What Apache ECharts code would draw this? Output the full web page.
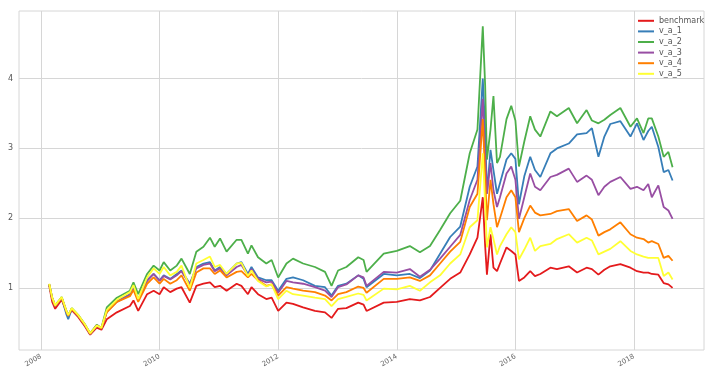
<!DOCTYPE html>
<html><head><meta charset="utf-8">
<script src="https://cdn.jsdelivr.net/npm/echarts@6/dist/echarts.min.js"></script>
<style>html,body{margin:0;padding:0;background:#fff}#c{width:711px;height:378px}</style>
</head><body><div id="c"></div>
<script>
const dates = [
2008.14,2008.19,2008.24,2008.35,2008.43,2008.46,2008.52,2008.63,2008.74,2008.83,2008.94,2009.02,
2009.11,2009.28,2009.50,2009.56,2009.64,2009.79,2009.90,2010.00,
2010.07,2010.18,2010.29,2010.37,2010.51,2010.62,2010.74,2010.85,2010.93,2011.02,
2011.13,2011.30,2011.38,2011.49,2011.55,2011.66,2011.80,2011.89,2012.00,
2012.14,2012.25,2012.42,2012.62,2012.79,2012.90,2013.01,2013.15,
2013.35,2013.44,2013.49,2013.78,2014.00,2014.22,2014.39,2014.56,2014.73,2014.90,
2015.07,2015.23,2015.36,2015.45,2015.49,2015.52,2015.58,2015.63,2015.69,2015.74,2015.85,2015.93,2016.00,
2016.06,2016.15,2016.25,2016.33,2016.42,2016.59,2016.70,2016.90,2017.04,2017.20,2017.29,2017.40,2017.50,2017.60,2017.77,2017.94,2018.05,2018.16,2018.24,2018.30,2018.41,2018.50,2018.58,2018.65
];
const benchmark = [
1.03,0.80,0.70,0.83,0.66,0.60,0.68,0.58,0.45,0.33,0.43,0.40,
0.55,0.65,0.74,0.82,0.67,0.91,0.96,0.91,
1.01,0.94,0.99,1.01,0.79,1.03,1.06,1.08,1.01,1.03,
0.96,1.06,1.03,0.91,1.01,0.91,0.84,0.86,0.67,
0.79,0.77,0.72,0.67,0.65,0.57,0.70,0.71,
0.79,0.76,0.67,0.79,0.80,0.84,0.82,0.87,1.00,1.13,
1.22,1.48,1.72,2.30,1.60,1.19,1.77,1.29,1.24,1.35,1.58,1.53,1.48,
1.10,1.15,1.24,1.17,1.20,1.29,1.27,1.31,1.22,1.29,1.27,1.19,1.26,1.31,1.34,1.29,1.24,1.22,1.22,1.20,1.19,1.07,1.05,1.00
];
const v_a_1 = [
1.05,0.85,0.74,0.86,0.62,0.55,0.70,0.60,0.47,0.34,0.46,0.42,
0.66,0.81,0.91,1.00,0.84,1.11,1.20,1.11,
1.18,1.13,1.20,1.25,1.06,1.30,1.35,1.37,1.25,1.30,
1.20,1.35,1.37,1.20,1.30,1.15,1.11,1.11,0.96,
1.13,1.15,1.11,1.03,1.01,0.89,1.03,1.06,
1.18,1.13,1.01,1.20,1.18,1.20,1.14,1.25,1.49,1.73,
1.88,2.45,2.74,4.00,3.27,2.35,2.98,2.69,2.35,2.50,2.84,2.93,2.85,
2.20,2.60,2.88,2.69,2.59,2.93,3.00,3.07,3.20,3.22,3.29,2.88,3.17,3.35,3.39,3.17,3.36,3.12,3.25,3.31,3.02,2.66,2.69,2.54
];
const v_a_2 = [
1.05,0.86,0.75,0.87,0.67,0.61,0.71,0.61,0.48,0.35,0.47,0.43,
0.72,0.86,0.96,1.08,0.91,1.20,1.32,1.25,
1.37,1.25,1.32,1.42,1.20,1.52,1.59,1.72,1.59,1.71,
1.52,1.69,1.69,1.49,1.61,1.44,1.35,1.40,1.15,
1.35,1.42,1.35,1.30,1.23,1.03,1.25,1.30,
1.44,1.40,1.23,1.49,1.53,1.60,1.51,1.60,1.83,2.07,
2.25,2.93,3.27,4.75,3.90,2.84,3.27,3.75,2.79,2.88,3.42,3.61,3.40,
2.74,3.10,3.46,3.27,3.17,3.53,3.46,3.58,3.36,3.55,3.40,3.36,3.41,3.48,3.58,3.31,3.43,3.22,3.43,3.43,3.17,2.88,2.95,2.73
];
const v_a_3 = [
1.05,0.85,0.74,0.86,0.66,0.60,0.70,0.60,0.47,0.34,0.46,0.42,
0.66,0.80,0.90,0.99,0.83,1.10,1.20,1.10,
1.17,1.12,1.18,1.24,1.05,1.28,1.33,1.35,1.24,1.28,
1.18,1.30,1.33,1.18,1.27,1.13,1.08,1.09,0.93,
1.10,1.08,1.06,1.01,0.96,0.87,1.01,1.05,
1.18,1.15,1.03,1.23,1.22,1.27,1.16,1.26,1.42,1.59,
1.76,2.26,2.55,3.71,2.90,2.35,2.79,2.40,2.16,2.30,2.64,2.74,2.55,
1.99,2.30,2.64,2.45,2.40,2.59,2.62,2.71,2.52,2.61,2.55,2.33,2.45,2.52,2.59,2.42,2.45,2.40,2.49,2.30,2.47,2.16,2.11,1.99
];
const v_a_4 = [
1.05,0.85,0.74,0.86,0.66,0.60,0.70,0.60,0.47,0.34,0.46,0.42,
0.65,0.80,0.88,0.97,0.80,1.06,1.15,1.06,
1.13,1.06,1.11,1.18,0.96,1.22,1.28,1.28,1.20,1.25,
1.15,1.23,1.24,1.15,1.20,1.11,1.03,1.05,0.89,
1.01,0.99,0.96,0.94,0.89,0.82,0.91,0.94,
1.02,1.00,0.93,1.13,1.13,1.15,1.10,1.18,1.35,1.52,
1.66,2.16,2.35,3.42,2.60,1.97,2.55,2.20,1.87,2.00,2.30,2.40,2.30,
1.80,2.00,2.18,2.08,2.04,2.06,2.10,2.13,1.96,2.04,1.98,1.75,1.80,1.84,1.94,1.77,1.72,1.70,1.65,1.67,1.63,1.43,1.46,1.39
];
const v_a_5 = [
1.06,0.86,0.75,0.87,0.67,0.61,0.71,0.61,0.48,0.35,0.46,0.43,
0.68,0.83,0.94,1.04,0.84,1.15,1.28,1.20,
1.30,1.18,1.23,1.32,1.00,1.35,1.40,1.45,1.30,1.33,
1.20,1.35,1.36,1.17,1.25,1.10,1.02,1.05,0.84,
0.96,0.91,0.89,0.86,0.84,0.74,0.84,0.87,
0.92,0.90,0.82,0.99,0.98,1.03,0.96,1.08,1.18,1.35,
1.48,1.87,1.97,2.93,2.20,1.58,1.87,1.70,1.48,1.60,1.77,1.87,1.80,
1.41,1.55,1.72,1.53,1.60,1.63,1.70,1.77,1.65,1.72,1.68,1.48,1.52,1.56,1.67,1.53,1.48,1.45,1.43,1.43,1.43,1.17,1.22,1.12
];
const seriesNames = ['benchmark','v_a_1','v_a_2','v_a_3','v_a_4','v_a_5'];
const seriesValues = [benchmark, v_a_1, v_a_2, v_a_3, v_a_4, v_a_5];
const colors = ['#e41a1c','#377eb8','#4daf4a','#984ea3','#ff7f00','#ffff33'];
const xTicks = [2008,2010,2012,2014,2016,2018];
const yTicks = [1,2,3,4];

const chart = echarts.init(document.getElementById('c'), null, {renderer:'canvas'});
chart.setOption({
  animation:false,
  backgroundColor:'#fff',
  color:colors,
  grid:{left:19,right:7,top:11,bottom:28,show:true,borderColor:'#d6d6d6',borderWidth:1,outerBoundsMode:'none',containLabel:false},
  legend:{
    orient:'vertical', left:638, top:16, padding:0, itemWidth:16, itemHeight:2, itemGap:1,
    icon:'rect',
    textStyle:{fontSize:8, color:'#555', lineHeight:9.6, fontFamily:'DejaVu Sans'},
    data:seriesNames
  },
  xAxis:{
    type:'value', min:2007.63, max:2019.18,
    axisLine:{show:false},
    axisTick:{show:false, customValues:xTicks},
    splitLine:{show:true, lineStyle:{color:'#d6d6d6', width:1}},
    axisLabel:{customValues:xTicks, rotate:30, fontSize:7, color:'#666', margin:6, fontFamily:'DejaVu Sans',
      formatter:v=>String(Math.round(v))}
  },
  yAxis:{
    type:'value', min:0.11, max:4.97,
    axisLine:{show:false},
    axisTick:{show:false, customValues:yTicks},
    splitLine:{show:true, lineStyle:{color:'#d6d6d6', width:1}},
    axisLabel:{customValues:yTicks, fontSize:8, color:'#555', margin:6, fontFamily:'DejaVu Sans'}
  },
  series: seriesNames.map((n,i)=>({
    name:n, type:'line', showSymbol:false, symbol:'none',
    lineStyle:{width:1.8, color:colors[i]}, itemStyle:{color:colors[i]},
    data: dates.map((d,j)=>[d, seriesValues[i][j]])
  }))
});
</script></body></html>
